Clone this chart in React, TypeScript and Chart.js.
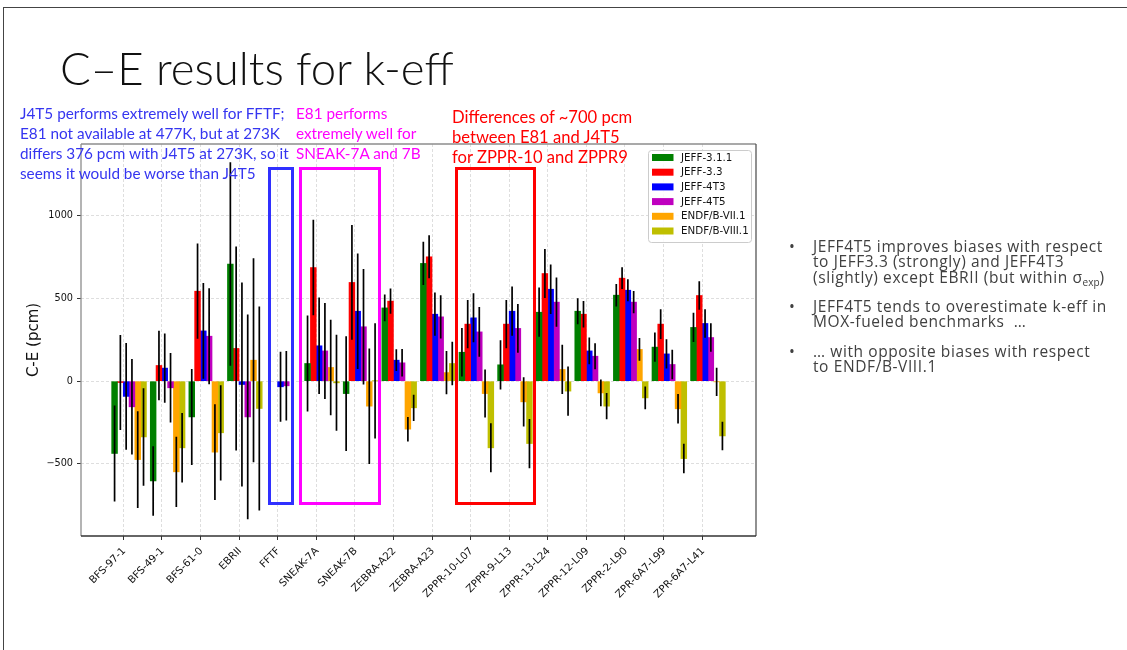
import React, { useEffect, useRef } from 'react';
import { Chart, registerables } from 'chart.js';

Chart.register(...registerables);

// ---------------- data ----------------
const categories = [
  'BFS-97-1', 'BFS-49-1', 'BFS-61-0', 'EBRII', 'FFTF', 'SNEAK-7A', 'SNEAK-7B', 'ZEBRA-A22',
  'ZEBRA-A23', 'ZPPR-10-L07', 'ZPPR-9-L13', 'ZPPR-13-L24', 'ZPPR-12-L09', 'ZPPR-2-L90',
  'ZPR-6A7-L99', 'ZPR-6A7-L41',
];

const seriesLabels = ['JEFF-3.1.1', 'JEFF-3.3', 'JEFF-4T3', 'JEFF-4T5', 'ENDF/B-VII.1', 'ENDF/B-VIII.1'];
const seriesColors = ['#008000', '#ff0000', '#0000ff', '#bf00bf', '#ffa500', '#bfbf00'];

const jeff311 = [-437, -603, -216, 708, null, 107, -75, 443, 712, 175, 99, 417, 423, 520, 206, 325];
const jeff311Err = [290, 210, 290, 615, null, 290, 347, 81, 131, 146, 149, 149, 79, 68, 88, 88];
const jeff33 = [-8, 95, 544, 198, null, 687, 597, 484, 752, 345, 345, 651, 405, 623, 345, 518];
const jeff33Err = [287, 210, 288, 617, null, 289, 347, 77, 130, 146, 146, 148, 80, 66, 90, 86];
const jeff4t3 = [-92, 79, 304, -20, -34, 214, 423, 127, 405, 383, 423, 556, 183, 550, 165, 349];
const jeff4t3Err = [323, 210, 290, 617, 212, 292, 349, 66, 131, 148, 149, 150, 81, 66, 89, 86];
const jeff4t5 = [-155, -40, 272, -216, -28, 183, 329, 111, 389, 298, 319, 478, 151, 478, 101, 264];
const jeff4t5Err = [289, 210, 290, 619, 210, 290, 349, 83, 131, 151, 147, 149, 79, 68, 89, 86];
const endf71 = [-474, -548, -429, 127, null, 83, -151, -290, 52, -75, -125, 71, -71, 192, -167, -4];
const endf71Err = [292, 212, 290, 617, null, 289, 349, 74, 131, 145, 149, 149, 81, 69, 89, 85];
const endf81 = [-337, -403, -312, -165, null, -10, 2, -161, 107, -403, -377, -60, -151, -101, -468, -331];
const endf81Err = [295, 210, 288, 617, null, 290, 349, 79, 131, 148, 149, 149, 79, 69, 89, 86];

const yTickValues = [-500, 0, 500, 1000];
const yAxisTitle = 'C-E (pcm)';

const seriesValues = [jeff311, jeff33, jeff4t3, jeff4t5, endf71, endf81];
const seriesErrors = [jeff311Err, jeff33Err, jeff4t3Err, jeff4t5Err, endf71Err, endf81Err];

// ---------------- layout constants ----------------
const BAR_W = 0.15; // bar width in category units
const X_MIN = -1.095;
const X_MAX = 16.395;
const Y_MIN = -936;
const Y_MAX = 1434;

const errorBarPlugin = {
  id: 'errorBars',
  afterDatasetsDraw(chart: any) {
    const { ctx } = chart;
    const yScale = chart.scales.y;
    ctx.save();
    ctx.beginPath();
    chart.data.datasets.forEach((ds: any, d: number) => {
      const meta = chart.getDatasetMeta(d);
      meta.data.forEach((el: any, i: number) => {
        const v = ds.data[i].y;
        const e = ds.errors[i];
        if (v == null || e == null) return;
        const px = el.x;
        ctx.moveTo(px, yScale.getPixelForValue(v - e));
        ctx.lineTo(px, yScale.getPixelForValue(v + e));
      });
    });
    ctx.strokeStyle = '#000';
    ctx.lineWidth = 1.7;
    ctx.stroke();
    ctx.restore();
  },
};

const framePlugin = {
  id: 'frame',
  afterDraw(chart: any) {
    const { ctx, chartArea: a } = chart;
    ctx.save();
    ctx.lineWidth = 1.3;
    const line = (x1: number, y1: number, x2: number, y2: number, c: string) => {
      ctx.beginPath();
      ctx.strokeStyle = c;
      ctx.moveTo(x1, y1);
      ctx.lineTo(x2, y2);
      ctx.stroke();
    };
    line(a.left, a.top, a.right, a.top, '#8c8c8c');
    line(a.left, a.top, a.left, a.bottom, '#8c8c8c');
    line(a.right, a.top, a.right, a.bottom, '#555');
    line(a.left, a.bottom, a.right, a.bottom, '#333');
    ctx.restore();
  },
};

const legendPlugin = {
  id: 'insideLegend',
  afterDraw(chart: any) {
    const { ctx, chartArea } = chart;
    const ds = chart.data.datasets;
    const boxW = 103;
    const boxH = 92;
    const bx = chartArea.right - 5 - boxW;
    const by = chartArea.top + 6;
    ctx.save();
    ctx.beginPath();
    if (ctx.roundRect) ctx.roundRect(bx + 0.5, by + 0.5, boxW, boxH, 3);
    else ctx.rect(bx + 0.5, by + 0.5, boxW, boxH);
    ctx.fillStyle = 'rgba(255,255,255,0.85)';
    ctx.fill();
    ctx.strokeStyle = '#cccccc';
    ctx.lineWidth = 1;
    ctx.stroke();
    ctx.font = '10.3px "DejaVu Sans"';
    ctx.textBaseline = 'middle';
    ctx.textAlign = 'left';
    ds.forEach((d: any, k: number) => {
      const cy = by + 7.5 + k * 14.7;
      ctx.fillStyle = d.backgroundColor;
      ctx.fillRect(bx + 4, cy - 3.5, 21.5, 7);
      ctx.fillStyle = '#111';
      ctx.fillText(d.label, bx + 33, cy + 0.5);
    });
    ctx.restore();
  },
};

function ChartCanvas() {
  const ref = useRef<HTMLCanvasElement>(null);
  useEffect(() => {
    const datasets = seriesLabels.map((label, k) => ({
      label,
      data: categories.map((_, i) => ({ x: i + (k - 2) * BAR_W + BAR_W / 2, y: seriesValues[k][i] })),
      errors: seriesErrors[k],
      backgroundColor: seriesColors[k],
      borderWidth: 0,
      grouped: false,
      categoryPercentage: 1,
      barPercentage: 1,
    }));
    const yTickFont = { family: '"DejaVu Sans"', size: 9.7 };
    const xTickFont = { family: '"DejaVu Sans"', size: 10.3 };
    const chart = new Chart(ref.current as HTMLCanvasElement, {
      type: 'bar',
      data: { datasets } as any,
      options: {
        responsive: false,
        animation: false,
        devicePixelRatio: 1,
        layout: { padding: { left: 0, top: 144, right: 371, bottom: 0 } },
        plugins: { legend: { display: false }, tooltip: { enabled: false }, title: { display: false } },
        scales: {
          x: {
            type: 'linear',
            offset: false,
            min: X_MIN,
            max: X_MAX,
            afterBuildTicks: (s: any) => {
              s.ticks = categories.map((_, i) => ({ value: i }));
            },
            afterFit: (s: any) => {
              s.height = 114;
              s.paddingLeft = 0;
              s.paddingRight = 0;
            },
            ticks: {
              autoSkip: false,
              minRotation: 45,
              maxRotation: 45,
              labelOffset: 1,
              padding: 5,
              color: '#111',
              font: xTickFont,
              callback: (_v: any, i: number) => categories[i],
            },
            grid: { offset: false, color: '#dedede', lineWidth: 1, tickColor: '#333', tickLength: 4, tickWidth: 1 },
            border: { display: false, dash: [3, 2] },
          },
          y: {
            type: 'linear',
            min: Y_MIN,
            max: Y_MAX,
            afterBuildTicks: (s: any) => {
              s.ticks = yTickValues.map((v) => ({ value: v }));
            },
            afterFit: (s: any) => {
              s.width = 81;
              s.paddingTop = 0;
              s.paddingBottom = 0;
            },
            ticks: {
              padding: 4,
              color: '#111',
              font: yTickFont,
              callback: (v: any) => (v < 0 ? '\u2212' + Math.abs(v) : String(v)),
            },
            grid: { color: '#dedede', lineWidth: 1, tickColor: '#333', tickLength: 4, tickWidth: 1 },
            border: { display: false, dash: [3, 2] },
            title: {
              display: true,
              text: yAxisTitle,
              color: '#111',
              font: { family: '"DejaVu Sans"', size: 15 },
              padding: { top: 25, bottom: 0 },
            },
          },
        },
      } as any,
      plugins: [errorBarPlugin, framePlugin, legendPlugin],
    });
    return () => chart.destroy();
  }, []);
  return (
    <canvas
      ref={ref}
      width={1127}
      height={650}
      style={{ position: 'absolute', left: 0, top: 0, width: 1127, height: 650 }}
    />
  );
}

const abs = (extra: React.CSSProperties): React.CSSProperties => ({ position: 'absolute', whiteSpace: 'pre', ...extra });

export default function App() {
  const noteFont = 'Lato, "Open Sans", sans-serif';
  const noteSize = 15.3;
  const bulletText: React.CSSProperties = {
    fontFamily: '"Open Sans", Lato, sans-serif',
    fontSize: 15.5,
    letterSpacing: '0.6px',
    lineHeight: '15.3px',
    color: '#404040',
  };
  return (
    <div
      style={{
        position: 'fixed', left: 0, top: 0, width: 1127, height: 650, overflow: 'hidden', background: '#fff',
      }}
    >
      <div
        style={{
          position: 'absolute', left: 3, top: 7, width: 1300, height: 900, border: '1.5px solid #444', boxSizing: 'border-box',
        }}
      />
      <ChartCanvas />
      <div
        style={abs({
          left: 60, top: 46, fontFamily: 'Lato, "Open Sans", sans-serif', fontWeight: 300, fontSize: 45.5, lineHeight: '44px', color: '#111',
        })}
      >
        C–E results for k-eff
      </div>

      <div style={abs({ left: 20, top: 103, fontFamily: noteFont, fontSize: noteSize, lineHeight: '20px', color: '#3535f0' })}>
        {'J4T5 performs extremely well for FFTF;\nE81 not available at 477K, but at 273K\ndiffers 376 pcm with J4T5 at 273K, so it\nseems it would be worse than J4T5'}
      </div>
      <div style={abs({ left: 296, top: 103, fontFamily: noteFont, fontSize: noteSize, lineHeight: '20px', color: '#ff00ff' })}>
        {'E81 performs\nextremely well for\nSNEAK-7A and 7B'}
      </div>
      <div style={abs({ left: 452, top: 107, fontFamily: noteFont, fontSize: 16.6, lineHeight: '20px', color: '#ff0000' })}>
        {'Differences of ~700 pcm\nbetween E81 and J4T5\nfor ZPPR-10 and ZPPR9'}
      </div>

      <div style={abs({ left: 268, top: 167, width: 26, height: 338, border: '3px solid #3030ff', boxSizing: 'border-box' })} />
      <div style={abs({ left: 299, top: 167, width: 82, height: 338, border: '3px solid #ff00ff', boxSizing: 'border-box' })} />
      <div style={abs({ left: 455, top: 167, width: 81, height: 338, border: '3px solid #ff0000', boxSizing: 'border-box' })} />

      <div style={abs({ left: 789, top: 239, ...bulletText })}>•</div>
      <div style={abs({ left: 813, top: 239, ...bulletText })}>
        {'JEFF4T5 improves biases with respect\nto JEFF3.3 (strongly) and JEFF4T3\n(slightly) except EBRII (but within σ'}
        <sub style={{ fontSize: 10, lineHeight: 0, verticalAlign: '-3px', letterSpacing: 0 }}>exp</sub>
        {')'}
      </div>
      <div style={abs({ left: 789, top: 298.5, ...bulletText })}>•</div>
      <div style={abs({ left: 813, top: 298.5, ...bulletText })}>
        {'JEFF4T5 tends to overestimate k-eff in\nMOX-fueled benchmarks  …'}
      </div>
      <div style={abs({ left: 789, top: 343.5, ...bulletText })}>•</div>
      <div style={abs({ left: 813, top: 343.5, ...bulletText })}>
        {'… with opposite biases with respect\nto ENDF/B-VIII.1'}
      </div>
    </div>
  );
}
